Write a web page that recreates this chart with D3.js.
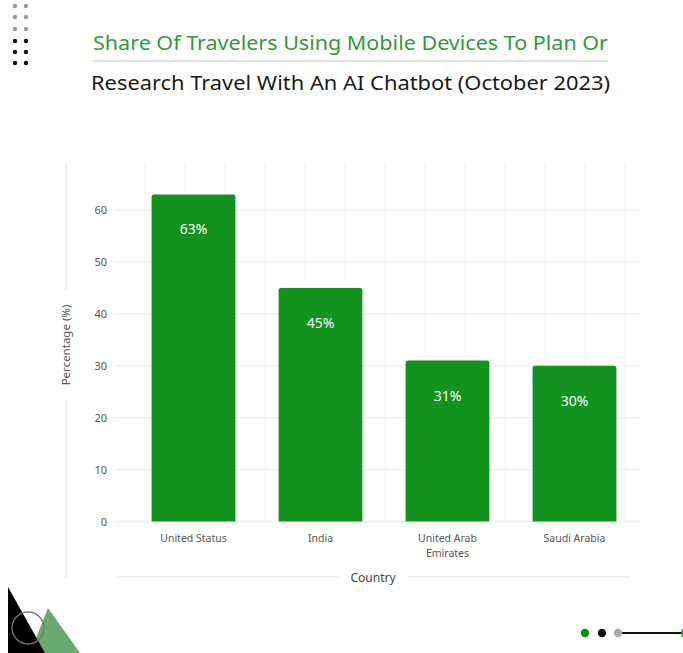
<!DOCTYPE html>
<html>
<head>
<meta charset="utf-8">
<script src="https://cdn.jsdelivr.net/npm/d3@7/dist/d3.min.js"></script>
<style>
  body { margin: 0; background: #fff; }
  svg { display: block; font-family: "Noto Sans", sans-serif; }
</style>
</head>
<body>
<script>
// chart data
var countries = ['United Status', 'India', 'United Arab Emirates', 'Saudi Arabia'];
var countryLines = [['United Status'], ['India'], ['United Arab', 'Emirates'], ['Saudi Arabia']];
var shares = [63, 45, 31, 30];
var yTicks = [0, 10, 20, 30, 40, 50, 60];

var width = 683, height = 653;
var green = '#12921f';

var svg = d3.select('body').append('svg').attr('width', width).attr('height', height);

// header
svg.append('text')
    .attr('x', 93).attr('y', 50)
    .attr('font-size', 20)
    .attr('fill', '#2f9a3c')
    .attr('textLength', 515).attr('lengthAdjust', 'spacingAndGlyphs')
    .text('Share Of Travelers Using Mobile Devices To Plan Or');
svg.append('line')
    .attr('x1', 93).attr('x2', 608).attr('y1', 61).attr('y2', 61)
    .attr('stroke', '#c4c4c4');
svg.append('text')
    .attr('x', 91).attr('y', 90)
    .attr('font-size', 20)
    .attr('fill', '#1a1a1a')
    .attr('textLength', 519).attr('lengthAdjust', 'spacingAndGlyphs')
    .text('Research Travel With An AI Chatbot (October 2023)');

// dots top left
var dotRows = [6, 17, 29, 41, 52, 63];
dotRows.forEach(function (y, i) {
    [15, 26].forEach(function (x) {
        svg.append('circle').attr('cx', x).attr('cy', y).attr('r', 2.2)
            .attr('fill', i < 3 ? '#9a9a9a' : '#111');
    });
});

// scales
var x = d3.scaleBand().domain(countries).range([130, 638]).paddingInner(0.34).paddingOuter(0.17);
var y = d3.scaleLinear().domain([0, 60]).range([521.5, 210]);
var gridX = d3.scaleLinear().domain([0, 12]).range([145, 625]);

// background grid
svg.append('g').selectAll('line')
    .data(d3.range(0, 13))
    .enter().append('line')
    .attr('x1', function (d) { return gridX(d); })
    .attr('x2', function (d) { return gridX(d); })
    .attr('y1', 165).attr('y2', y(0))
    .attr('stroke', '#f3f3f3');
svg.append('g').selectAll('line')
    .data(yTicks)
    .enter().append('line')
    .attr('x1', 115).attr('x2', 640)
    .attr('y1', function (d) { return y(d); })
    .attr('y2', function (d) { return y(d); })
    .attr('stroke', '#ededed');

// y axis labels
var yAxis = svg.append('g')
    .attr('transform', 'translate(107,0)')
    .call(d3.axisLeft(y).tickValues(yTicks).tickSize(0).tickPadding(0));
yAxis.select('.domain').remove();
yAxis.selectAll('text').attr('font-size', 11).attr('fill', '#555').attr('font-family', '"Noto Sans", sans-serif');

// bars
svg.append('g').selectAll('path')
    .data(shares)
    .enter().append('path')
    .attr('fill', green)
    .attr('d', function (d, i) {
        var x0 = x(countries[i]), w = x.bandwidth(), y0 = y(d), y1 = y(0), r = 2.5;
        return 'M' + x0 + ',' + y1 + 'V' + (y0 + r) + 'Q' + x0 + ',' + y0 + ' ' + (x0 + r) + ',' + y0 +
            'H' + (x0 + w - r) + 'Q' + (x0 + w) + ',' + y0 + ' ' + (x0 + w) + ',' + (y0 + r) + 'V' + y1 + 'Z';
    });

svg.append('g').selectAll('text')
    .data(shares)
    .enter().append('text')
    .attr('x', function (d, i) { return x(countries[i]) + x.bandwidth() / 2; })
    .attr('y', function (d) { return y(d) + 40; })
    .attr('text-anchor', 'middle')
    .attr('font-size', 14)
    .attr('fill', '#fff')
    .text(function (d) { return d + '%'; });

// x labels
var xl = svg.append('g').selectAll('text')
    .data(countries)
    .enter().append('text')
    .attr('x', function (d) { return x(d) + x.bandwidth() / 2; })
    .attr('y', 542)
    .attr('text-anchor', 'middle')
    .attr('font-size', 10.5).attr('fill', '#555');
xl.each(function (d, i) {
    var t = d3.select(this);
    countryLines[i].forEach(function (s, j) {
        t.append('tspan').attr('x', x(d) + x.bandwidth() / 2).attr('dy', j ? 15 : 0).text(s);
    });
});

// axis titles
svg.append('line').attr('x1', 66).attr('x2', 66).attr('y1', 163).attr('y2', 290).attr('stroke', '#e2e2e2');
svg.append('line').attr('x1', 66).attr('x2', 66).attr('y1', 400).attr('y2', 578).attr('stroke', '#e2e2e2');
svg.append('text')
    .attr('transform', 'translate(70,345) rotate(-90)')
    .attr('text-anchor', 'middle')
    .attr('font-size', 11.5).attr('fill', '#555')
    .text('Percentage (%)');
svg.append('line').attr('x1', 117).attr('x2', 340).attr('y1', 577).attr('y2', 577).attr('stroke', '#e2e2e2');
svg.append('line').attr('x1', 408).attr('x2', 630).attr('y1', 577).attr('y2', 577).attr('stroke', '#e2e2e2');
svg.append('text')
    .attr('x', 373).attr('y', 582)
    .attr('text-anchor', 'middle')
    .attr('font-size', 12).attr('fill', '#444')
    .text('Country');

// bottom left decoration
svg.append('path').attr('d', 'M48,608L80,653H30Z').attr('fill', '#6aaa6e');
svg.append('path').attr('d', 'M8,587L45,653H8Z').attr('fill', '#000');
svg.append('circle').attr('cx', 28).attr('cy', 628).attr('r', 16)
    .attr('fill', 'none').attr('stroke', '#777').attr('stroke-width', 1.3);

// bottom right decoration
svg.append('line').attr('x1', 620).attr('x2', 683).attr('y1', 633).attr('y2', 633)
    .attr('stroke', '#111').attr('stroke-width', 2);
svg.append('circle').attr('cx', 585).attr('cy', 633).attr('r', 4.2).attr('fill', '#16871f');
svg.append('circle').attr('cx', 602).attr('cy', 633).attr('r', 4.2).attr('fill', '#111');
svg.append('circle').attr('cx', 618).attr('cy', 633).attr('r', 4.2).attr('fill', '#aaa');
svg.append('circle').attr('cx', 688).attr('cy', 633).attr('r', 7).attr('fill', '#1a9a2a');
</script>
</body>
</html>
